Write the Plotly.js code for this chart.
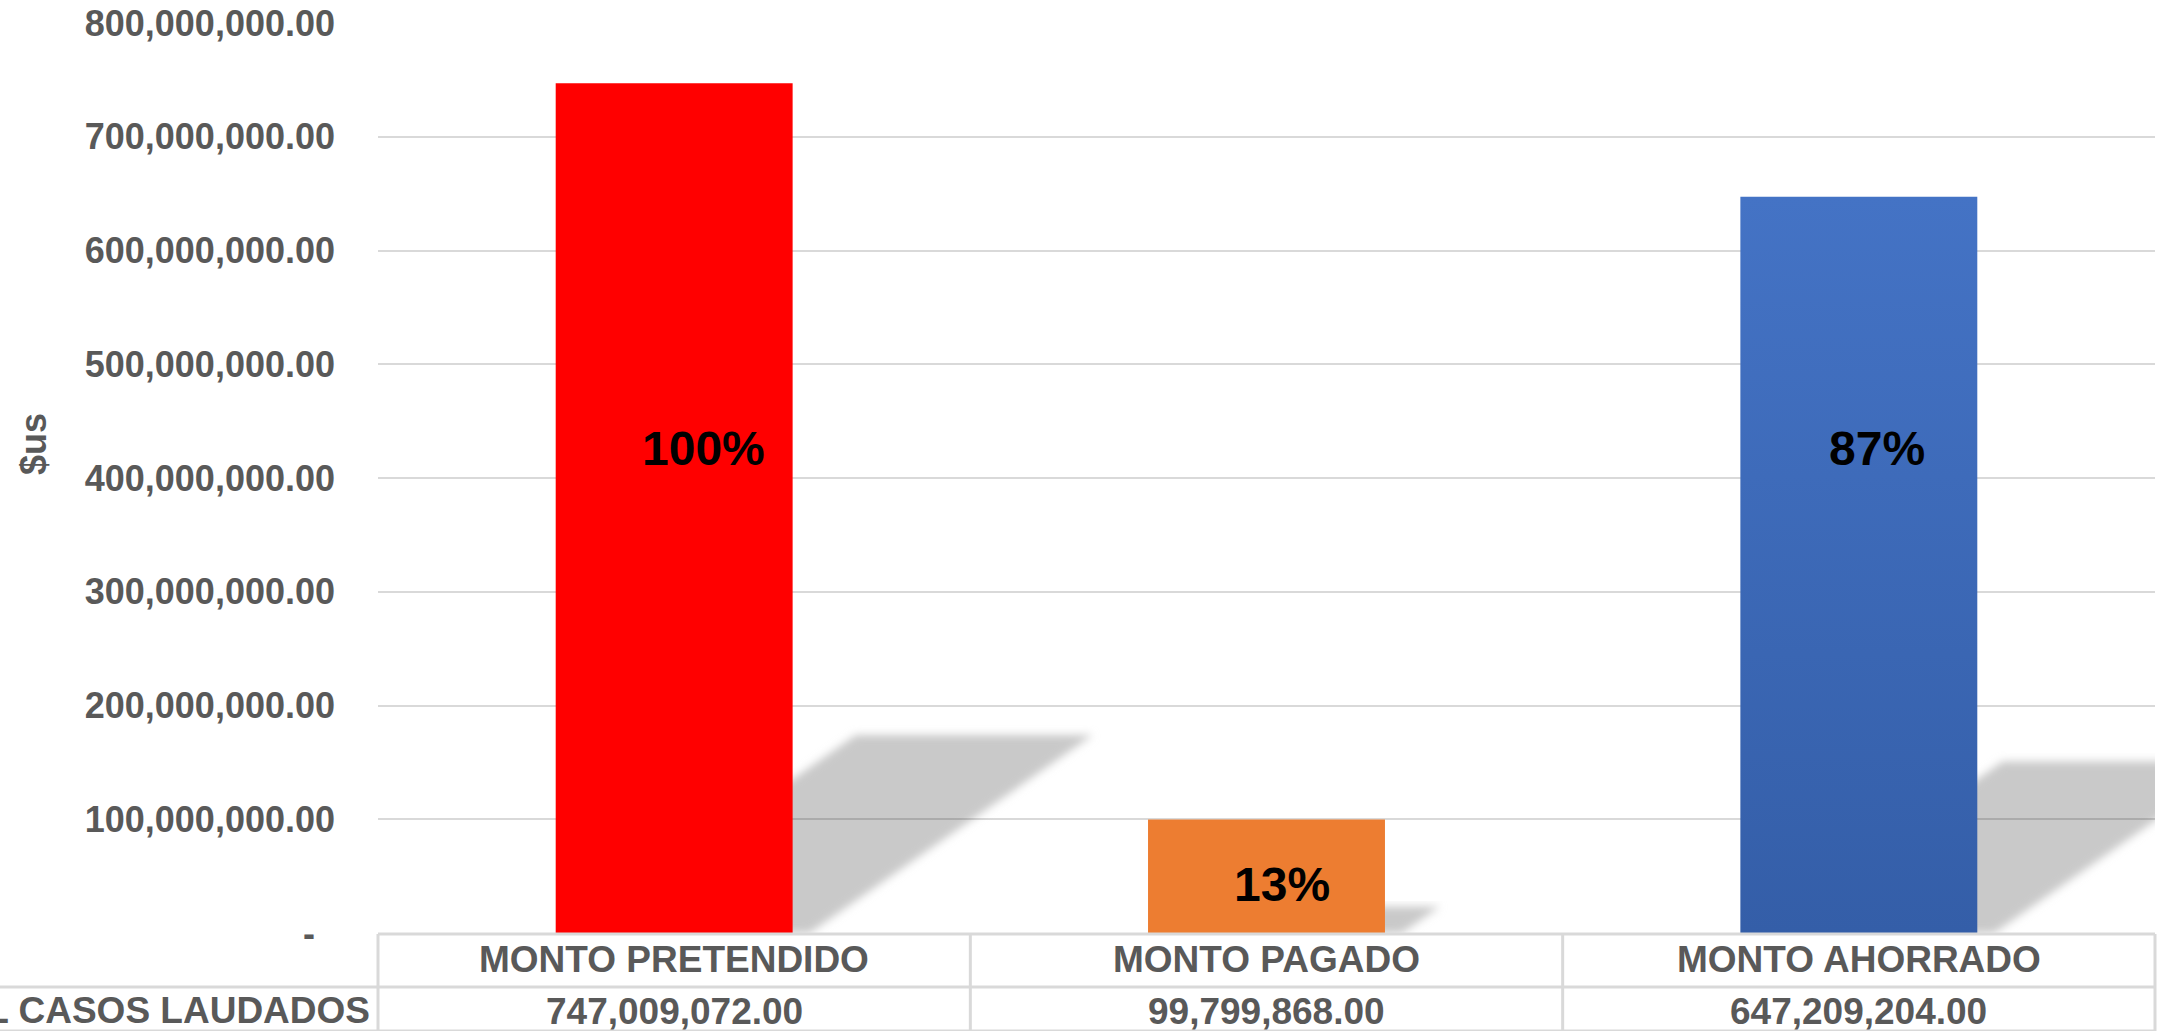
<!DOCTYPE html>
<html>
<head>
<meta charset="utf-8">
<script src="https://cdn.plot.ly/plotly-3.0.1.min.js"></script>
<style>
  html, body { margin: 0; padding: 0; background: #ffffff; }
  #chart { width: 2159px; height: 1031px; }
</style>
</head>
<body>
<div id="chart"></div>
<script>
// ---------------- DATA ----------------
const categories = ["MONTO PRETENDIDO", "MONTO PAGADO", "MONTO AHORRADO"];
const amounts = [747009072.00, 99799868.00, 647209204.00];
const rowLabel = "TOTAL CASOS LAUDADOS";
const yTickValues = [0, 100000000, 200000000, 300000000, 400000000, 500000000, 600000000, 700000000, 800000000];
const yAxisTitle = "$us";

// ---------------- LAYOUT CONSTANTS ----------------
const W = 2159, H = 1031;
const ml = 378, mr = 4, mt = 23, mb = 98;
const plotW = W - ml - mr, plotH = H - mt - mb;
const yMax = 800000000;
const barColors = ["#FF0000", "#ED7D31", "#4472C4"];
const textGrey = "#595959";
const FONT = "Liberation Sans, Arial, Helvetica, sans-serif";
const lineGrey = "#d9d9d9";
const shadowColor = "#c9c9c9";

const fmt2 = v => v.toLocaleString("en-US", {minimumFractionDigits: 2, maximumFractionDigits: 2});
const pxToPaperY = px => (H - mb - px) / plotH;
const pxToPaperX = px => (px - ml) / plotW;

const tickText = yTickValues.map(v => v === 0 ? "-\u00A0\u00A0" : fmt2(v));
const xIdx = categories.map((c, i) => i);
const barWidth = 0.4;

// ---------------- SHADOWS (skewed, derived from bar values) ----------------
const pxPerUnitY = plotH / yMax;
const pxPerCat = plotW / 3;
const shadowHeightRatio = 0.233;
const shadowSkew = 1.43;           // horizontal px per vertical px
const shadowBaseOffset = 17 / pxPerCat;
const shapes = [];
amounts.forEach((v, i) => {
  const hVal = v * shadowHeightRatio;
  const hPx = hVal * pxPerUnitY;
  const dx = shadowSkew * hPx / pxPerCat;
  const x0 = i - barWidth / 2 + shadowBaseOffset;
  const x1 = i + barWidth / 2 + shadowBaseOffset;
  shapes.push({
    type: "path", xref: "x", yref: "y", layer: "below",
    path: `M ${x0} 0 L ${x1} 0 L ${x1 + dx} ${hVal} L ${x0 + dx} ${hVal} Z`,
    fillcolor: shadowColor, line: {width: 0}
  });
});

// ---------------- TABLE LINES ----------------
const tblTop = 934, tblMid = 987, tblBot = 1031;
const colEdges = [0, 1, 2, 3].map(k => ml + k * pxPerCat);
shapes.push({type: "line", xref: "paper", yref: "paper", x0: 0, x1: 1, y0: pxToPaperY(tblTop), y1: pxToPaperY(tblTop), line: {color: lineGrey, width: 3}, layer: "above"});
shapes.push({type: "line", xref: "paper", yref: "paper", x0: pxToPaperX(0), x1: 1, y0: pxToPaperY(tblMid), y1: pxToPaperY(tblMid), line: {color: lineGrey, width: 3}, layer: "above"});
shapes.push({type: "line", xref: "paper", yref: "paper", x0: pxToPaperX(0), x1: 1, y0: pxToPaperY(tblBot), y1: pxToPaperY(tblBot), line: {color: lineGrey, width: 3}, layer: "above"});
colEdges.forEach(px => {
  shapes.push({type: "line", xref: "paper", yref: "paper", x0: pxToPaperX(px), x1: pxToPaperX(px), y0: pxToPaperY(tblTop), y1: pxToPaperY(tblBot + 5), line: {color: lineGrey, width: 3}, layer: "above"});
});

// ---------------- ANNOTATIONS ----------------
const annotations = [];
const pctLabelY = [426000000, 43000000, 426000000];
const pctLabelShift = [29, 15, 18];
amounts.forEach((v, i) => {
  annotations.push({
    x: i, y: pctLabelY[i], xref: "x", yref: "y",
    text: Math.round(v / amounts[0] * 100) + "%",
    showarrow: false, xanchor: "center", yanchor: "middle", xshift: pctLabelShift[i],
    font: {family: FONT, size: 48, color: "#000000", weight: "bold"}
  });
});
categories.forEach((c, i) => {
  annotations.push({
    x: i, xref: "x", y: pxToPaperY(960), yref: "paper", text: c, showarrow: false,
    xanchor: "center", yanchor: "middle",
    font: {family: FONT, size: 37, color: textGrey, weight: "bold"}
  });
  annotations.push({
    x: i, xref: "x", y: pxToPaperY(1012), yref: "paper", text: fmt2(amounts[i]), showarrow: false,
    xanchor: "center", yanchor: "middle",
    font: {family: FONT, size: 37, color: textGrey, weight: "bold"}
  });
});
annotations.push({
  x: 0, xref: "paper", xanchor: "right", xshift: -6, y: pxToPaperY(1011), yref: "paper",
  text: rowLabel, showarrow: false, yanchor: "middle",
  font: {family: FONT, size: 37, color: textGrey, weight: "bold"}
});
annotations.push({
  x: pxToPaperX(33), xref: "paper", y: pxToPaperY(444), yref: "paper",
  text: yAxisTitle, textangle: -90, showarrow: false, xanchor: "center", yanchor: "middle",
  font: {family: FONT, size: 36, color: textGrey, weight: "bold"}
});

// ---------------- TRACE ----------------
const trace = {
  type: "bar",
  x: xIdx,
  y: amounts,
  width: barWidth,
  marker: {color: barColors, line: {width: 0}},
  hoverinfo: "skip"
};

const layout = {
  width: W, height: H,
  margin: {l: ml, r: mr, t: mt, b: mb, pad: 0},
  paper_bgcolor: "#ffffff", plot_bgcolor: "#ffffff",
  showlegend: false,
  xaxis: {type: "linear", range: [-0.5, 2.5], showgrid: false, zeroline: false, showticklabels: false, ticks: "", showline: false, fixedrange: true},
  yaxis: {
    range: [0, yMax], tickvals: yTickValues, ticktext: tickText,
    showgrid: true, gridcolor: "rgba(0,0,0,0.15)", gridwidth: 2,
    zeroline: false, showline: false, ticks: "", ticklabelstandoff: 42,
    tickfont: {family: FONT, size: 36, color: textGrey, weight: "bold"},
    fixedrange: true
  },
  shapes: shapes,
  annotations: annotations
};

Plotly.newPlot("chart", [trace], layout, {displayModeBar: false, staticPlot: true}).then(gd => {
  const svg = gd.querySelector("svg.main-svg");
  const defs = svg.querySelector("defs");
  const NS = "http://www.w3.org/2000/svg";
  const grad = document.createElementNS(NS, "linearGradient");
  grad.setAttribute("id", "blueGrad");
  grad.setAttribute("x1", "0"); grad.setAttribute("y1", "0");
  grad.setAttribute("x2", "0"); grad.setAttribute("y2", "1");
  [["0", "#4473C5"], ["1", "#345EA8"]].forEach(([o, c]) => {
    const s = document.createElementNS(NS, "stop");
    s.setAttribute("offset", o); s.setAttribute("stop-color", c);
    grad.appendChild(s);
  });
  defs.appendChild(grad);
  const filt = document.createElementNS(NS, "filter");
  filt.setAttribute("id", "shadowBlur");
  filt.setAttribute("x", "-20%"); filt.setAttribute("y", "-20%");
  filt.setAttribute("width", "140%"); filt.setAttribute("height", "140%");
  const blur = document.createElementNS(NS, "feGaussianBlur");
  blur.setAttribute("stdDeviation", "4");
  filt.appendChild(blur);
  defs.appendChild(filt);

  const bars = gd.querySelectorAll(".barlayer .point path");
  if (bars[2]) bars[2].style.fill = "url(#blueGrad)";
  gd.querySelectorAll("path").forEach(p => {
    const f = (p.style.fill || p.getAttribute("fill") || "").replace(/\s/g, "");
    if (f === "rgb(201,201,201)" || f === shadowColor) p.setAttribute("filter", "url(#shadowBlur)");
  });
});
</script>
</body>
</html>
